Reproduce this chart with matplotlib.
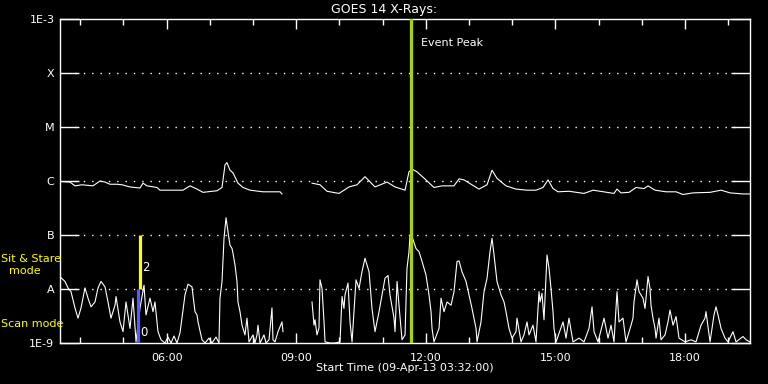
import numpy as np
import matplotlib
matplotlib.use("Agg")
import matplotlib.pyplot as plt
from matplotlib.ticker import FixedLocator, NullLocator

# ---------------- data (time in minutes after 09-Apr-13 03:32:00) ----------------
long_t = [1.4, 13.9, 20.8, 30.6, 45.8, 55.6, 62.5, 69.4, 79.2, 86.1, 97.2, 111.1,
          115.3, 120.8, 134.7, 138.9, 170.8, 180.6, 190.3, 198.6, 218.1, 225.0,
          229.2, 231.9, 236.1, 240.3, 247.2, 254.2, 263.9, 281.9, 305.6, 308.3,
          312.0,
          350.0, 361.1, 370.8, 387.5, 401.4, 412.5, 423.6, 437.5, 454.2, 465.3,
          479.2, 484.7, 488.9, 495.8, 508.3, 519.4, 530.6, 547.2, 554.2, 561.1,
          581.9, 593.1, 600.0, 606.9, 619.4, 633.3, 648.6, 661.1, 670.8, 677.8,
          684.7, 691.7, 706.9, 727.8, 740.3, 769.4, 773.6, 779.2, 790.3, 800.0,
          811.1, 816.7, 826.4, 841.7, 855.6, 865.3, 879.2, 902.8, 918.1, 930.6,
          948.6, 958.3]
long_logf = [-6.01, -6.02, -6.09, -6.07, -6.09, -6.00, -6.02, -6.06, -6.06, -6.07,
             -6.11, -6.13, -6.04, -6.09, -6.12, -6.17, -6.17, -6.09, -6.15, -6.21,
             -6.18, -6.12, -5.70, -5.66, -5.80, -5.85, -6.04, -6.12, -6.17, -6.20,
             -6.20, -6.24,
             np.nan,
             -6.04, -6.07, -6.19, -6.23, -6.11, -6.07, -5.92, -6.11, -6.02, -6.11,
             -6.17, -5.83, -5.78, -5.83, -5.98, -6.12, -6.09, -6.09, -5.96, -5.98,
             -6.15, -6.07, -5.80, -5.95, -6.09, -6.15, -6.17, -6.17, -6.12, -5.98,
             -6.14, -6.20, -6.19, -6.23, -6.17, -6.23, -6.15, -6.22, -6.21, -6.12,
             -6.14, -6.09, -6.17, -6.20, -6.20, -6.25, -6.22, -6.21, -6.17, -6.22,
             -6.24, -6.24]

short_t = [1.4, 6.9, 11.1, 15.3, 20.8, 25.0, 29.2, 34.7, 38.9, 43.1, 48.6, 52.8,
           56.9, 62.5, 66.7, 70.8, 76.4, 77.8, 83.3, 87.5, 91.7, 97.2, 101.4,
           105.6, 111.1, 116.7, 119.4, 125.0, 129.2, 131.9, 136.1, 140.3, 145.8,
           150.0, 154.2, 158.3, 162.5, 166.7, 173.6, 177.8, 183.3, 187.5, 190.3,
           191.7, 197.2, 201.4, 206.9, 211.1, 216.7, 220.8, 222.2, 225.0, 227.8,
           230.6, 233.3, 236.1, 238.9, 240.3, 243.1, 245.8, 247.2, 250.0, 252.8,
           256.9, 259.7, 262.5, 268.1, 270.8, 273.6, 275.0, 277.8, 283.3, 286.1,
           290.3, 294.4, 295.8, 298.6, 302.8, 308.3, 309.7,
           312.0,
           350.0, 352.8, 354.2, 356.9, 359.7, 361.1, 363.9, 366.7, 368.1, 375.0,
           381.9, 388.9, 391.7, 394.4, 395.8, 400.0, 402.8, 405.6, 408.3, 411.1,
           415.3, 419.4, 423.6, 429.2, 433.3, 437.5, 443.1, 447.2, 451.4, 455.6,
           458.3, 463.9, 465.3, 468.1, 470.8, 475.0, 479.2, 481.9, 484.7, 486.1,
           488.9, 494.4, 498.6, 502.8, 508.3, 512.5, 515.3, 516.7, 519.4, 526.4,
           529.2, 533.3, 537.5, 543.1, 547.2, 551.4, 554.2, 558.3, 563.9, 568.1,
           572.2, 577.8, 579.2, 584.7, 588.9, 593.1, 597.2, 600.0, 602.8, 606.9,
           612.5, 616.7, 619.4, 623.6, 627.8, 633.3, 634.7, 640.3, 644.4, 648.6,
           651.4, 656.9, 661.1, 665.3, 666.7, 669.4, 672.2, 676.4, 679.2, 681.9,
           684.7, 686.1, 688.9, 693.1, 698.6, 702.8, 706.9, 712.5, 720.8, 727.8,
           734.7, 738.9, 741.7, 747.2, 755.6, 761.1, 765.3, 769.4, 773.6, 776.4,
           781.9, 786.1, 793.1, 795.8, 797.2, 801.4, 804.2, 809.7, 812.5, 813.9,
           816.7, 819.4, 820.8, 823.6, 826.4, 827.8, 831.9, 834.7, 840.3, 844.4,
           847.2, 851.4, 855.6, 859.7, 868.1, 876.4, 883.3, 890.3, 895.8, 897.2,
           902.8, 908.3, 911.1, 913.9, 918.1, 923.6, 927.8, 934.7, 938.9, 948.6,
           952.8, 958.3]
short_logf = [-7.79, -7.86, -7.98, -8.05, -8.35, -8.54, -8.35, -7.98, -8.17, -8.33,
              -8.24, -7.98, -7.86, -7.96, -8.24, -8.54, -8.30, -8.14, -8.61, -8.79,
              -8.24, -8.73, -8.17, -8.98, -8.35, -7.93, -8.48, -8.17, -8.42, -8.24,
              -8.79, -8.94, -9.00, -8.89, -9.00, -8.87, -9.00, -8.81, -8.11, -7.91,
              -7.96, -8.42, -8.48, -8.61, -8.94, -9.00, -8.91, -9.00, -8.89, -9.00,
              -8.17, -7.86, -7.06, -6.68, -6.94, -7.19, -7.25, -7.34, -7.56, -7.86,
              -8.24, -8.42, -8.67, -8.85, -8.54, -8.98, -8.85, -9.00, -8.85, -8.67,
              -9.00, -8.85, -9.00, -8.94, -8.35, -8.94, -8.98, -8.79, -8.61, -8.79,
              np.nan,
              -8.24, -8.67, -8.57, -8.85, -8.72, -7.83, -7.99, -8.61, -8.98, -9.00,
              -9.00, -8.98, -8.14, -8.36, -8.11, -7.89, -8.61, -8.98, -8.42, -7.83,
              -7.99, -7.68, -7.43, -7.68, -8.36, -8.79, -8.42, -8.11, -7.80, -7.75,
              -8.11, -8.54, -8.79, -7.86, -8.30, -8.94, -8.85, -7.62, -7.31, -7.00,
              -7.03, -7.25, -7.31, -7.49, -7.74, -8.11, -8.42, -8.73, -8.98, -8.73,
              -8.17, -8.42, -8.24, -8.30, -8.05, -7.49, -7.48, -7.68, -7.86, -8.11,
              -8.36, -8.73, -8.98, -8.61, -8.05, -7.80, -7.31, -7.06, -7.37, -7.86,
              -8.11, -8.24, -8.42, -8.73, -8.91, -8.79, -8.54, -8.98, -8.85, -8.61,
              -8.85, -8.67, -8.98, -8.05, -8.24, -8.08, -8.57, -7.37, -7.62, -7.99,
              -8.42, -8.73, -8.98, -8.82, -8.61, -8.91, -8.54, -8.98, -8.91, -8.98,
              -8.73, -8.33, -8.79, -8.98, -8.54, -8.91, -8.67, -8.98, -8.05, -8.61,
              -8.54, -8.98, -8.67, -8.54, -8.24, -7.83, -8.05, -8.17, -8.36, -8.17,
              -7.77, -7.99, -8.30, -8.54, -8.73, -8.91, -8.54, -8.94, -8.85, -8.61,
              -8.39, -8.67, -8.51, -8.91, -8.98, -8.94, -8.98, -8.67, -8.54, -8.42,
              -8.98, -8.48, -8.33, -8.48, -8.73, -8.91, -8.98, -8.79, -8.98, -8.88,
              -8.94, -8.98]

x_end = 958.3
event_peak_t = 487.5
mode_t = 109.0
scan_range = [1e-9, 1e-8]
sitstare_range = [1e-8, 1e-7]

xtick_pos = [148, 328, 508, 688, 868]
xtick_labels = ["06:00", "09:00", "12:00", "15:00", "18:00"]
xminor_pos = [28, 88, 208, 268, 388, 448, 568, 628, 748, 808, 928]
ytick_pos = [1e-9, 1e-8, 1e-7, 1e-6, 1e-5, 1e-4, 1e-3]
ytick_labels = ["1E-9", "A", "B", "C", "M", "X", "1E-3"]
grid_levels = [1e-8, 1e-7, 1e-6, 1e-5, 1e-4]

title = "GOES 14 X-Rays:"
xlabel = "Start Time (09-Apr-13 03:32:00)"

# ---------------- plot ----------------
plt.rcParams['font.family'] = ['DejaVu Sans']
fig = plt.figure(figsize=(7.68, 3.84), dpi=100, facecolor='black')
ax = fig.add_axes([60/768, 41/384, 690/768, 324/384], facecolor='black')

ax.set_yscale('log')
ax.set_xlim(0, x_end)
ax.set_ylim(1e-9, 1e-3)

# dotted grid
for lv in grid_levels:
    ax.axhline(lv, xmin=15/690, xmax=1-15/690, color='white',
               linestyle=(0, (1, 5)), linewidth=1.0, zorder=1)

ax.plot(long_t, 10**np.array(long_logf), color='white', linewidth=0.8, zorder=3)
ax.plot(short_t, 10**np.array(short_logf), color='white', linewidth=0.8, zorder=3)

# event peak
ax.axvline(event_peak_t, color='#a8d400', linewidth=2.3, zorder=4)
ax.text(event_peak_t + 14, 10**(-3 - 24/54), "Event Peak", color='white',
        fontsize=8, va='center', ha='left')

# observation mode markers
ax.vlines(mode_t, scan_range[0], scan_range[1], color='#5a5aff', linewidth=2.3, zorder=5)
ax.vlines(mode_t + 1.5, sitstare_range[0], sitstare_range[1], color='#ffff00',
          linewidth=2.3, zorder=5)
ax.text(mode_t + 5, 10**(-7.6), "2", color='white', fontsize=8.5, va='center', ha='left')
ax.text(mode_t + 2, 10**(-8.8), "0", color='white', fontsize=8.5, va='center', ha='left')

fig.text(1/768, 1 - 259/384, "Sit & Stare", color='#ffff00', fontsize=8,
         ha='left', va='center')
fig.text(25/768, 1 - 271/384, "mode", color='#ffff00', fontsize=8,
         ha='center', va='center')
fig.text(1/768, 1 - 324/384, "Scan mode", color='#ffff00', fontsize=8,
         ha='left', va='center')

# axes styling
for s in ax.spines.values():
    s.set_color('white')
    s.set_linewidth(1.0)

ax.xaxis.set_major_locator(FixedLocator(xtick_pos))
ax.xaxis.set_minor_locator(FixedLocator(xminor_pos))
ax.set_xticklabels(xtick_labels)
ax.tick_params(axis='x', which='major', direction='in', length=7, width=1,
               colors='white', top=True, bottom=True, labelsize=8, pad=7)
ax.tick_params(axis='x', which='minor', direction='in', length=4, width=1,
               colors='white', top=True, bottom=True)

ax.yaxis.set_major_locator(FixedLocator(ytick_pos))
ax.yaxis.set_minor_locator(NullLocator())
ax.set_yticklabels(ytick_labels)
ax.tick_params(axis='y', which='major', direction='in', length=14, width=1,
               colors='white', left=True, right=True, labelsize=8, pad=4)

fig.text(384/768, 1 - 9/384, title, color='white', fontsize=9, ha='center', va='center')
fig.text(405/768, 1 - 368/384, xlabel, color='white', fontsize=8, ha='center',
         va='center')

fig.savefig("out.png", dpi=100, facecolor='black')
